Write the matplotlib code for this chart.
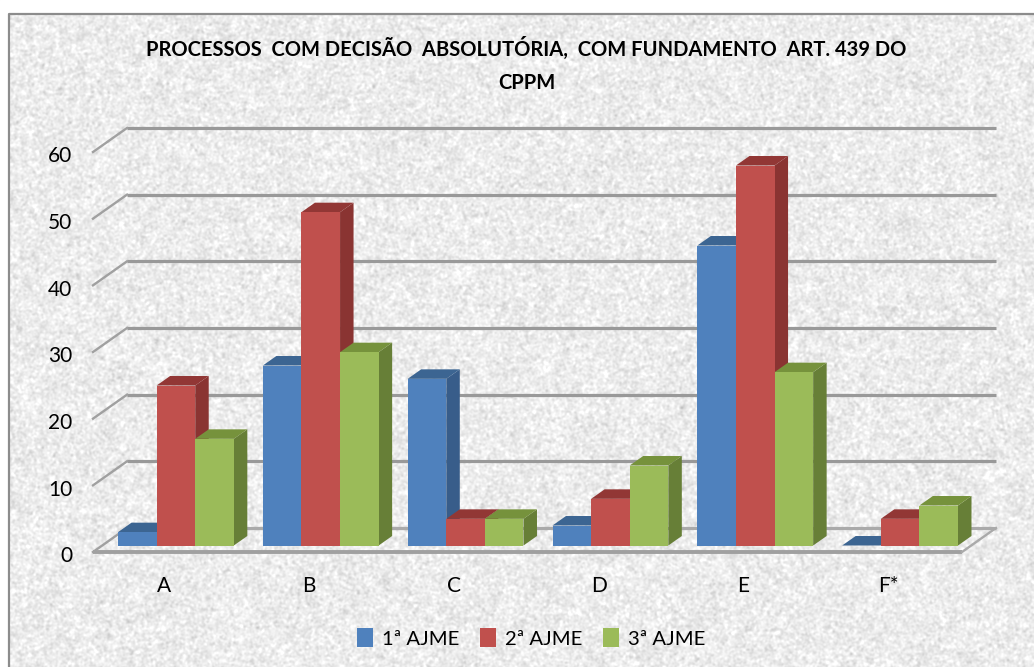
import numpy as np
import matplotlib
matplotlib.use("Agg")
import matplotlib.pyplot as plt
from matplotlib.patches import Polygon, Rectangle
from matplotlib.transforms import ScaledTranslation

plt.rcParams['font.family'] = ['Lato', 'DejaVu Sans']

categories = ['A', 'B', 'C', 'D', 'E', 'F*']
series_names = ['1ª AJME', '2ª AJME', '3ª AJME']
aj1 = [2, 27, 25, 3, 45, 0]
aj2 = [24, 50, 4, 7, 57, 4]
aj3 = [16, 29, 4, 12, 26, 6]
yticks = [0, 10, 20, 30, 40, 50, 60]
title = 'PROCESSOS  COM DECISÃO  ABSOLUTÓRIA,  COM FUNDAMENTO  ART. 439 DO\nCPPM'

front = ['#4F81BD', '#C0504D', '#9BBB59']
top = ['#3C6592', '#923735', '#76923C']
side = ['#385D8A', '#8A3432', '#677F37']

W, H = 1034, 667
fig = plt.figure(figsize=(W / 100, H / 100), dpi=100, facecolor='white')

# granite texture background (decorative only)
rng = np.random.default_rng(7)
def blur(a, s):
    fy = np.fft.fftfreq(a.shape[0])[:, None]
    fx = np.fft.fftfreq(a.shape[1])[None, :]
    return np.fft.ifft2(np.fft.fft2(a) * np.exp(-2 * (np.pi * s) ** 2 * (fx ** 2 + fy ** 2))).real
n = rng.normal(size=(H, W))
fine = blur(n, 1.0); fine /= fine.std()
coarse = blur(rng.normal(size=(H, W)), 5); coarse /= coarse.std()
tex = np.clip(0.925 + 0.032 * fine + 0.006 * coarse, 0.66, 1.0)
bg = fig.add_axes([0, 0, 1, 1], zorder=0)
bg.imshow(tex, cmap='gray', vmin=0, vmax=1, extent=(0, W, H, 0), aspect='auto', interpolation='bilinear')
bg.add_patch(Rectangle((0, 0), W, 13, color='white', zorder=2))
bg.add_patch(Rectangle((0, 0), 8, H, color='white', zorder=2))
bg.plot([8.5, 8.5, W], [H, 13.5, 13.5], color='#8c8c8c', lw=1.6, zorder=3)
bg.set_xlim(0, W); bg.set_ylim(H, 0)
bg.axis('off')

# plot axes: front plane of the 3D box
L, R, B, T = 93, 962, 552, 152
ax = fig.add_axes([L / W, 1 - B / H, (R - L) / W, (B - T) / H], zorder=1)
ax.patch.set_alpha(0)
ax.set_xlim(-0.5, 5.5)
ax.set_ylim(0, 60)
px = 6 / (R - L)      # data x per pixel
py = 60 / (B - T)     # data y per pixel
depth_x, depth_y = 34 * px, 24 * py

for v in yticks:
    ax.plot([-0.5 + depth_x, 5.5 + depth_x], [v + depth_y] * 2, color='#999999' if v else '#aaaaaa',
            lw=2.3, clip_on=False, zorder=1, solid_capstyle='butt')
    ax.plot([-0.5, -0.5 + depth_x], [v, v + depth_y], color='#a0a0a0', lw=1.7, clip_on=False, zorder=1)
ax.plot([-0.5, 5.5], [0, 0], color='#a0a0a0', lw=2.8, clip_on=False, zorder=1, solid_capstyle='butt')
ax.plot([5.5, 5.5 + depth_x], [0, depth_y], color='#aaaaaa', lw=1.7, clip_on=False, zorder=1)

bw = 38.6 * px
shift_x, shift_y = 10.5 * px, 6.5 * py
bdx, bdy = 13.5 * px, 9.5 * py
x = np.arange(len(categories))
handles = []
for i, vals in enumerate([aj1, aj2, aj3]):
    z = 3 + i
    xs = x + shift_x + (i - 1) * bw
    bars = ax.bar(xs, vals, bw, bottom=shift_y, color=front[i], label=series_names[i],
                  zorder=z + 0.5, clip_on=False, linewidth=0)
    handles.append(bars)
    for xc, v in zip(xs, vals):
        l, r = xc - bw / 2, xc + bw / 2
        t = v + shift_y
        ax.add_patch(Polygon([(r, shift_y), (r + bdx, shift_y + bdy), (r + bdx, t + bdy), (r, t)],
                             closed=True, fc=side[i], ec='none', zorder=z, clip_on=False))
        ax.add_patch(Polygon([(l, t), (l + bdx, t + bdy), (r + bdx, t + bdy), (r, t)],
                             closed=True, fc=top[i], ec='none', zorder=z, clip_on=False))

for s in ax.spines.values():
    s.set_visible(False)
ax.set_xticks(x, categories)
ax.set_yticks(yticks, [str(v) for v in yticks])
ax.tick_params(axis='x', length=0, pad=17.5, labelsize=15, labelcolor='black')
ax.tick_params(axis='y', length=0, pad=15, labelsize=15, labelcolor='black')
down = ScaledTranslation(0, -2.2 / 100, fig.dpi_scale_trans)
for lab in ax.get_yticklabels():
    lab.set_transform(lab.get_transform() + down)
left = ScaledTranslation(-1.2 / 100, 0, fig.dpi_scale_trans)
for lab in ax.get_xticklabels():
    lab.set_transform(lab.get_transform() + left)

fig.text(526.5 / W, 1 - 65 / H, title, ha='center', va='center', fontsize=14.5, fontweight='bold',
         color='black', linespacing=1.85, zorder=5)

ax.legend(handles=handles, loc='center', bbox_to_anchor=(531 / W, 1 - 638 / H),
          bbox_transform=fig.transFigure, ncols=3, frameon=False, fontsize=14.6,
          handlelength=0.8, handleheight=1.0, handletextpad=0.45, columnspacing=1.0)

fig.savefig('out.png', dpi=100)
